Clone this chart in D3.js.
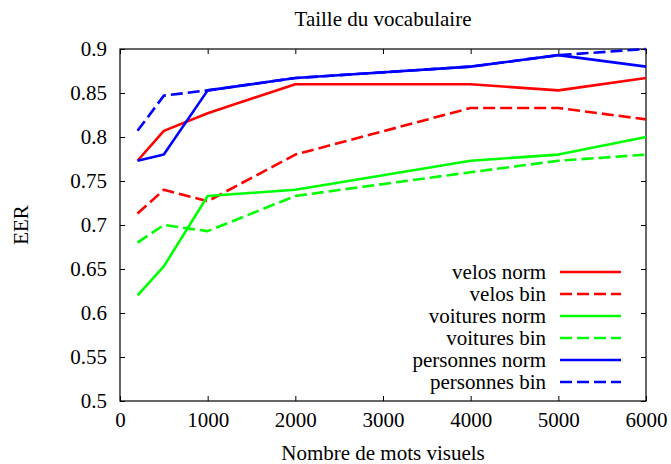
<!DOCTYPE html>
<html lang="fr">
<head>
<meta charset="UTF-8">
<title>Taille du vocabulaire</title>
<script src="https://d3js.org/d3.v7.min.js"></script>
<style>
  body { margin: 0; background: #fff; }
  text { font-family: "Liberation Serif", "Times New Roman", serif; fill: #000; }
</style>
</head>
<body>
<div id="chart"></div>
<script>
// data
const sizes = [200, 500, 1000, 2000, 4000, 5000, 6000];
const velosNorm = [0.773, 0.807, 0.827, 0.86, 0.86, 0.853, 0.867];
const velosBin = [0.713, 0.74, 0.727, 0.78, 0.833, 0.833, 0.82];
const voituresNorm = [0.62, 0.653, 0.733, 0.74, 0.773, 0.78, 0.80];
const voituresBin = [0.68, 0.70, 0.693, 0.733, 0.76, 0.773, 0.78];
const personnesNorm = [0.773, 0.78, 0.853, 0.867, 0.88, 0.893, 0.88];
const personnesBin = [0.807, 0.847, 0.853, 0.867, 0.88, 0.893, 0.90];
const xTicks = [0, 1000, 2000, 3000, 4000, 5000, 6000];
const yTicks = [0.5, 0.55, 0.6, 0.65, 0.7, 0.75, 0.8, 0.85, 0.9];

const series = [
  { name: "velos norm", values: velosNorm, color: "#ff0000", dashed: false },
  { name: "velos bin", values: velosBin, color: "#ff0000", dashed: true },
  { name: "voitures norm", values: voituresNorm, color: "#00ff00", dashed: false },
  { name: "voitures bin", values: voituresBin, color: "#00ff00", dashed: true },
  { name: "personnes norm", values: personnesNorm, color: "#0000ff", dashed: false },
  { name: "personnes bin", values: personnesBin, color: "#0000ff", dashed: true }
];

const W = 671, H = 464;
const margin = { top: 49, right: 25, bottom: 63, left: 120 };
const width = W - margin.left - margin.right;
const height = H - margin.top - margin.bottom;
const fs = 21;
const dash = "12,5";

const svg = d3.select("#chart").append("svg")
  .attr("width", W).attr("height", H);

const g = svg.append("g")
  .attr("transform", `translate(${margin.left},${margin.top})`);

const x = d3.scaleLinear().domain([0, 6000]).range([0, width]);
const y = d3.scaleLinear().domain([0.5, 0.9]).range([height, 0]);

// axes with inward ticks, mirrored on top/right
const tl = 5;
g.append("g").attr("transform", `translate(0,${height})`)
  .call(d3.axisBottom(x).tickValues(xTicks).tickSize(-tl).tickPadding(11).tickFormat(d3.format("d")));
g.append("g")
  .call(d3.axisTop(x).tickValues(xTicks).tickSize(-tl).tickFormat(""));
g.append("g")
  .call(d3.axisLeft(y).tickValues(yTicks).tickSize(-tl).tickPadding(13).tickFormat(d => d3.format("")(+d.toFixed(2))));
g.append("g").attr("transform", `translate(${width},0)`)
  .call(d3.axisRight(y).tickValues(yTicks).tickSize(-tl).tickFormat(""));

g.selectAll(".domain").remove();
g.selectAll(".tick line").attr("stroke", "#000").attr("stroke-width", 1);
g.selectAll(".tick text")
  .style("font-family", "'Liberation Serif', 'Times New Roman', serif")
  .style("font-size", fs + "px")
  .attr("fill", "#000");

g.append("rect")
  .attr("width", width).attr("height", height)
  .attr("fill", "none").attr("stroke", "#000").attr("stroke-width", 1.2);

// lines
const line = d3.line()
  .x((d, i) => x(sizes[i]))
  .y(d => y(d));

g.selectAll(".series")
  .data(series)
  .enter().append("path")
  .attr("d", d => line(d.values))
  .attr("fill", "none")
  .attr("stroke", d => d.color)
  .attr("stroke-width", 2.6)
  .attr("stroke-linejoin", "round")
  .attr("stroke-dasharray", d => d.dashed ? dash : null);

// legend
const legend = svg.append("g");
series.forEach((s, i) => {
  const ly = 272 + i * 22;
  legend.append("text")
    .attr("x", 546).attr("y", ly)
    .attr("dy", "0.35em")
    .attr("text-anchor", "end")
    .style("font-size", fs + "px")
    .text(s.name);
  legend.append("line")
    .attr("x1", 560).attr("x2", 621)
    .attr("y1", ly).attr("y2", ly)
    .attr("stroke", s.color)
    .attr("stroke-width", 2.6)
    .attr("stroke-dasharray", s.dashed ? dash : null);
});

// title and axis labels
svg.append("text")
  .attr("x", margin.left + width / 2).attr("y", 19)
  .attr("dy", "0.35em")
  .attr("text-anchor", "middle")
  .style("font-size", fs + "px")
  .text("Taille du vocabulaire");

svg.append("text")
  .attr("x", margin.left + width / 2).attr("y", 453)
  .attr("dy", "0.35em")
  .attr("text-anchor", "middle")
  .style("font-size", fs + "px")
  .text("Nombre de mots visuels");

svg.append("text")
  .attr("transform", `translate(21,${margin.top + height / 2}) rotate(-90)`)
  .attr("dy", "0.35em")
  .attr("text-anchor", "middle")
  .style("font-size", fs + "px")
  .text("EER");
</script>
</body>
</html>
